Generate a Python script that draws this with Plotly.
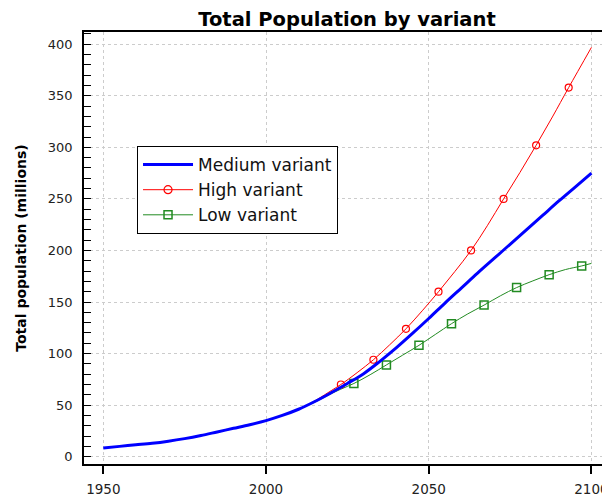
import plotly.graph_objects as go

# ---------------- data ----------------
medium_years = list(range(1950, 2101, 5))
medium_values = [8.5, 10, 11.5, 13, 15, 17.5, 20.5, 24, 27.5, 31, 35, 40, 46, 53.5, 62,
                 71, 80.5, 92.5, 105.5, 119.5, 134, 149, 163.5, 178, 192, 206, 220, 234,
                 248, 261.5, 275]

high_years = [2010, 2013, 2016, 2020, 2023, 2028, 2033, 2038, 2043, 2048, 2053, 2058,
              2063, 2068, 2073, 2078, 2083, 2088, 2093, 2100]
high_values = [46, 50.5, 56, 64, 70, 81.5, 94, 108.5, 124, 141.5, 160, 179.5,
               200, 224, 250, 275.5, 302, 329.5, 358, 397]
high_marker_years = [2023, 2033, 2043, 2053, 2063, 2073, 2083, 2093]

low_years = [2010, 2013, 2016, 2020, 2023, 2027, 2032, 2037, 2042, 2047, 2052, 2057,
             2062, 2067, 2072, 2077, 2082, 2087, 2092, 2097, 2100]
low_values = [46, 50, 54.5, 61, 65.5, 71, 79.5, 89, 98.5, 108, 118.5, 129,
              138.5, 147, 156, 164, 170.5, 176.5, 181.5, 185, 187.5]
low_marker_years = [2027, 2037, 2047, 2057, 2067, 2077, 2087, 2097]

x_ticks = [1950, 2000, 2050, 2100]
y_ticks = [0, 50, 100, 150, 200, 250, 300, 350, 400]

title_text = "Total Population by variant"
y_title = "Total population (millions)"
names = ["Medium variant", "High variant", "Low variant"]

BLUE = "#0000FF"
RED = "#FF0000"
GREEN = "#228B22"
FONT = "DejaVu Sans, Verdana, sans-serif"

high_marker_vals = [high_values[high_years.index(y)] for y in high_marker_years]
low_marker_vals = [low_values[low_years.index(y)] for y in low_marker_years]

fig = go.Figure()

# data lines
fig.add_trace(go.Scatter(x=low_years, y=low_values, mode="lines",
                         line=dict(color=GREEN, width=1, shape="spline"), showlegend=False))
fig.add_trace(go.Scatter(x=low_marker_years, y=low_marker_vals, mode="markers",
                         marker=dict(symbol="square-open", size=8, color=GREEN,
                                     line=dict(width=1.5, color=GREEN)), showlegend=False))
fig.add_trace(go.Scatter(x=high_years, y=high_values, mode="lines",
                         line=dict(color=RED, width=1, shape="spline"), showlegend=False))
fig.add_trace(go.Scatter(x=high_marker_years, y=high_marker_vals, mode="markers",
                         marker=dict(symbol="circle-open", size=7, color=RED,
                                     line=dict(width=1.2, color=RED)), showlegend=False))
fig.add_trace(go.Scatter(x=medium_years, y=medium_values, mode="lines",
                         line=dict(color=BLUE, width=3, shape="spline"), showlegend=False))

# legend entries
fig.add_trace(go.Scatter(x=[None], y=[None], mode="lines", name=names[0],
                         line=dict(color=BLUE, width=3)))
fig.add_trace(go.Scatter(x=[None], y=[None], mode="lines+markers", name=names[1],
                         line=dict(color=RED, width=1),
                         marker=dict(symbol="circle-open", size=8, color=RED,
                                     line=dict(width=1.2, color=RED))))
fig.add_trace(go.Scatter(x=[None], y=[None], mode="lines+markers", name=names[2],
                         line=dict(color=GREEN, width=1),
                         marker=dict(symbol="square-open", size=8, color=GREEN,
                                     line=dict(width=1.5, color=GREEN))))

fig.update_layout(
    width=610, height=499,
    margin=dict(l=76, r=8, t=24, b=43, autoexpand=False),
    paper_bgcolor="white", plot_bgcolor="white",
    font=dict(family=FONT, size=13, color="#222"),
    title=dict(text="<b>" + title_text + "</b>", x=0.5557, xanchor="center",
               y=0.977, yanchor="middle", font=dict(size=19.5, color="black", family=FONT)),
    legend=dict(x=0.1008, y=0.736, xanchor="left", yanchor="top",
                bgcolor="white", bordercolor="black", borderwidth=1,
                font=dict(size=17, color="#111", family=FONT), itemwidth=50,
                tracegroupgap=0),
    showlegend=True,
)

fig.update_xaxes(
    range=[1944.07, 2105.7], tickvals=x_ticks, ticktext=[str(v) for v in x_ticks],
    showgrid=True, gridcolor="#cccccc", griddash="3px,3px", gridwidth=1,
    showline=True, linecolor="black", linewidth=1.5, mirror=True,
    ticks="outside", ticklen=8, tickcolor="black", tickwidth=1.5,
    ticklabelstandoff=4, zeroline=False, automargin=False,
    tickfont=dict(size=13.5),
)
fig.update_yaxes(
    range=[-7.1, 411.9], tickvals=y_ticks, ticktext=[str(v) for v in y_ticks],
    showgrid=True, gridcolor="#cccccc", griddash="3px,3px", gridwidth=1,
    showline=True, linecolor="black", linewidth=1.5,
    ticks="", ticklabelstandoff=7, zeroline=False, automargin=False,
    minor=dict(dtick=10, ticks="inside", ticklen=7, tickcolor="black", tickwidth=1,
               showgrid=False),
    title=dict(text="<b>" + y_title + "</b>", font=dict(size=14, color="black", family=FONT),
               standoff=18),
)

fig.write_html("out.html")
